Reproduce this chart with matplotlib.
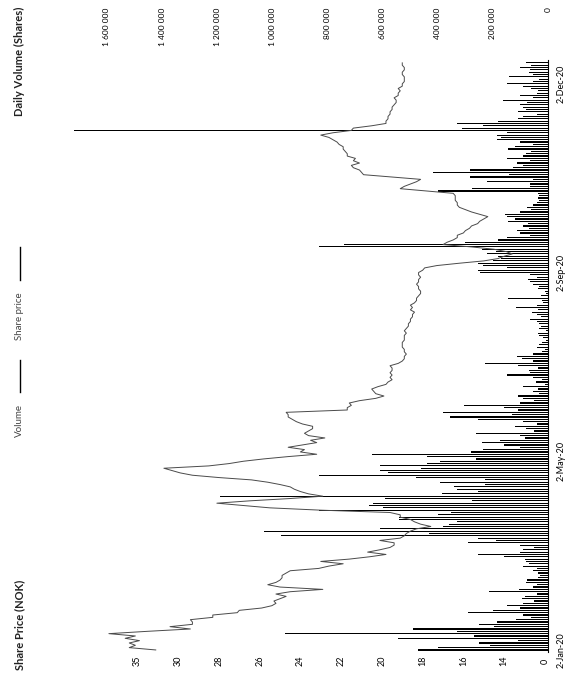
import matplotlib
matplotlib.use('Agg')
import matplotlib.pyplot as plt
from matplotlib.lines import Line2D

plt.rcParams['font.family'] = ['Lato', 'DejaVu Sans']

# daily volume, thousands of shares, one value per trading day (2 Jan 2020 ->)
volume_k = [
    470, 400, 210, 250, 110, 545, 270, 955, 330, 490,
    195, 250, 185, 115, 60, 90, 290, 200, 100, 150,
    90, 50, 95, 85, 40, 215, 105, 55, 40, 80,
    75, 35, 30, 35, 55, 40, 90, 70, 80, 85,
    160, 255, 100, 90, 50, 100, 290, 190, 255, 970,
    430, 1030, 610, 380, 360, 330, 540, 540, 400, 350,
    830, 600, 650, 635, 275, 590, 1190, 385, 255, 330,
    340, 230, 390, 230, 480, 830, 580, 610, 460, 610,
    440, 390, 260, 440, 640, 280, 235, 100, 160, 240,
    175, 85, 100, 260, 50, 80, 120, 40, 90, 255,
    355, 130, 380, 110, 160, 305, 100, 50, 90, 108,
    31, 56, 35, 90, 11, 45, 20, 56, 150, 65,
    70, 35, 110, 229, 56, 95, 114, 56, 20, 11,
    41, 31, 20, 6, 17, 31, 35, 8, 31, 24,
    31, 41, 65, 24, 41, 59, 35, 116, 41, 17,
    20, 145, 24, 8, 11, 35, 31, 56, 65, 71,
    41, 65, 247, 253, 150, 235, 253, 200, 170, 180,
    220, 190, 240, 830, 740, 300, 180, 150, 65, 100,
    114, 70, 90, 71, 144, 120, 150, 155, 100, 60,
    75, 56, 40, 31, 35, 31, 35, 398, 277, 65,
    65, 222, 56, 283, 140, 416, 283, 127, 90, 114,
    65, 150, 90, 80, 60, 144, 120, 56, 100, 185,
    170, 185, 150, 1720, 312, 235, 330, 180, 108, 90,
    41, 108, 80, 90, 100, 75, 163, 56, 100, 41,
    35, 60, 90, 150, 56, 31, 140, 56, 70, 65,
    100, 60, 80,
]

# closing share price, NOK
price = [
    31.1, 32.4, 32.1, 32.4, 31.9, 32.6, 32.1, 33.4, 31.5, 29.4,
    30.4, 29.3, 29.3, 29.4, 28.3, 28.3, 27.1, 27.0, 25.9, 25.4,
    25.2, 25.3, 25.0, 24.7, 25.2, 24.5, 22.9, 25.0, 25.6, 25.2,
    25.0, 24.9, 24.9, 24.7, 24.5, 23.1, 22.6, 21.9, 23.0, 21.6,
    20.6, 19.8, 20.7, 20.1, 19.6, 19.4, 19.4, 20.1, 19.1, 18.9,
    18.8, 18.6, 18.3, 17.6, 18.1, 18.4, 18.6, 19.1, 19.1, 19.6,
    23.0, 25.5, 26.8, 28.1, 26.5, 24.5, 22.9, 23.6, 24.0, 24.3,
    24.5, 25.0, 25.6, 26.4, 28.0, 29.3, 29.9, 30.3, 30.7, 28.5,
    27.5, 26.8, 25.8, 24.6, 23.2, 24.0, 23.8, 24.6, 23.9, 23.2,
    23.5, 22.8, 23.6, 23.8, 23.6, 23.4, 23.4, 23.9, 24.2, 24.4,
    24.6, 24.6, 24.7, 21.7, 21.7, 21.5, 21.6, 21.1, 20.3, 19.9,
    20.3, 20.4, 20.5, 20.2, 19.8, 19.7, 19.5, 19.6, 19.5, 19.6,
    19.5, 19.5, 19.6, 19.2, 19.0, 18.9, 18.9, 18.8, 18.9, 18.9,
    19.0, 19.0, 19.0, 18.9, 18.9, 18.9, 18.8, 18.9, 18.8, 18.7,
    18.7, 18.6, 18.6, 18.5, 18.5, 18.4, 18.6, 18.5, 18.6, 18.4,
    18.3, 18.3, 18.2, 18.1, 18.1, 18.2, 18.2, 18.3, 18.2, 18.2,
    18.1, 18.2, 18.2, 18.0, 17.9, 17.3, 16.2, 15.0, 14.3, 14.0,
    13.6, 13.9, 14.5, 15.6, 17.0, 16.8, 16.5, 16.3, 16.3, 16.0,
    15.9, 15.7, 15.6, 15.3, 15.2, 15.0, 14.8, 15.2, 15.6, 15.9,
    16.2, 16.3, 16.3, 16.4, 16.4, 16.4, 16.5, 17.8, 19.1, 18.9,
    18.6, 18.3, 18.1, 19.5, 20.9, 21.0, 21.1, 21.4, 21.5, 21.1,
    21.4, 21.3, 21.7, 21.7, 21.8, 21.9, 21.9, 22.1, 22.2, 22.4,
    22.6, 23.0, 22.4, 21.5, 21.4, 20.5, 19.8, 19.8, 19.7, 19.7,
    19.6, 19.6, 19.5, 19.5, 19.4, 19.3, 19.3, 19.4, 19.2, 19.2,
    19.1, 19.2, 19.0, 19.0, 18.9, 18.9, 18.9, 19.0, 19.0, 18.9,
    18.9, 19.0, 19.0,
]

date_pos = [0, 81, 162, 243]
date_labels = ['2-Jan-20', '2-May-20', '2-Sep-20', '2-Dec-20']

vol_ticks = [0, 200000, 400000, 600000, 800000, 1000000, 1200000, 1400000, 1600000]
vol_labels = ['0', '200 000', '400 000', '600 000', '800 000', '1 000 000',
              '1 200 000', '1 400 000', '1 600 000']

price_ticks = [12, 14, 16, 18, 20, 22, 24, 26, 28, 30, 32]
price_labels = ['0', '14', '16', '18', '20', '22', '24', '26', '28', '30', '35']

days = list(range(len(price)))
volume = [v * 1000 for v in volume_k]

fig = plt.figure(figsize=(5.69, 6.75), dpi=100)
ax = fig.add_axes([0.109, 0.034, 0.854, 0.877])
ax2 = ax.twiny()  # twiny moves ax ticks to the bottom, so set sides afterwards

# chart is laid out turned a quarter turn: days run upwards, values run leftwards
ax.barh(days, volume, height=0.5, color='black', linewidth=0)
ax.set_xlim(1.763e6, 0)
ax.set_ylim(-0.9, 253.2)

ax.xaxis.tick_top()
ax.set_xticks(vol_ticks)
ax.set_xticklabels(vol_labels, rotation=90, va='top', fontsize=6)
ax.tick_params(axis='x', length=0, pad=38)

ax.yaxis.tick_right()
ax.set_yticks(date_pos)
ax.set_yticklabels(date_labels, rotation=90, va='center', ha='left', fontsize=6.5)
ax.tick_params(axis='y', length=0, pad=6)

for side in ['top', 'bottom', 'left']:
    ax.spines[side].set_visible(False)
ax.spines['right'].set_linewidth(0.8)

ax2.plot(price, days, color='#4a4a4a', linewidth=0.7)
ax2.set_xlim(35.7, 11.85)
ax2.xaxis.tick_bottom()
ax2.set_xticks(price_ticks)
ax2.set_xticklabels(price_labels, rotation=90, va='center', fontsize=6.5)
ax2.tick_params(axis='x', length=0, pad=6.5)
for side in ax2.spines:
    ax2.spines[side].set_visible(False)

# titles and legend, also turned
fig.text(0.035, 1 - 670 / 675, 'Share Price (NOK)', rotation=90, ha='center',
         va='bottom', fontsize=8, fontweight='bold', color='#222222')
fig.text(0.035, 1 - 7 / 675, 'Daily Volume (Shares)', rotation=90, ha='center',
         va='top', fontsize=8, fontweight='bold', color='#222222')

fig.text(0.035, 1 - 437 / 675, 'Volume', rotation=90, ha='center', va='bottom',
         fontsize=7, color='#444444')
fig.add_artist(Line2D([0.035, 0.035], [1 - 392 / 675, 1 - 360 / 675],
                      transform=fig.transFigure, color='black', linewidth=1))
fig.text(0.035, 1 - 340 / 675, 'Share price', rotation=90, ha='center', va='bottom',
         fontsize=7, color='#444444')
fig.add_artist(Line2D([0.035, 0.035], [1 - 280 / 675, 1 - 247 / 675],
                      transform=fig.transFigure, color='black', linewidth=1))

fig.savefig('out.png', dpi=100)
